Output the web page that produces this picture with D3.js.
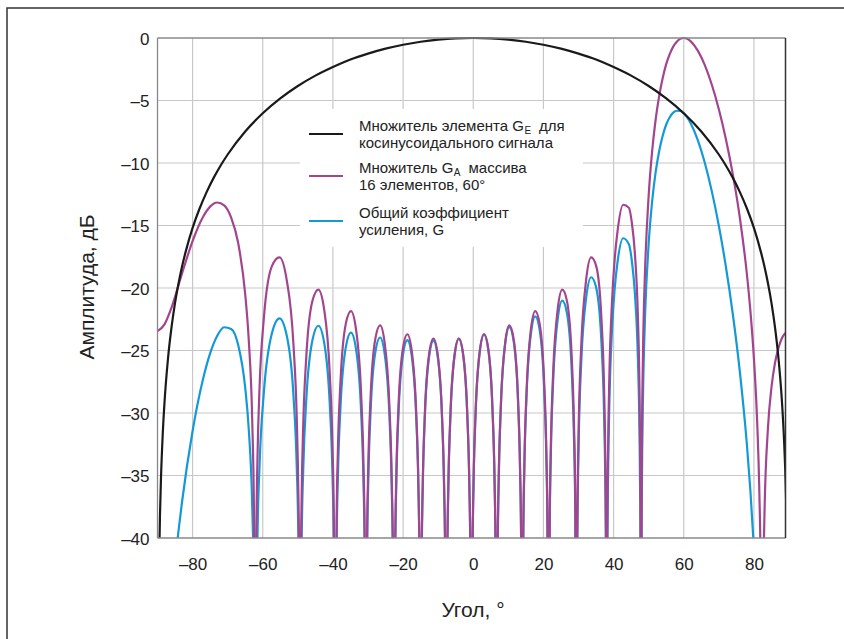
<!DOCTYPE html>
<html><head><meta charset="utf-8">
<script src="https://cdn.jsdelivr.net/npm/d3@7"></script>
<style>body{margin:0;background:#fff}svg{display:block}text{font-family:"Liberation Sans",Arial,sans-serif;fill:#222}</style>
</head><body><svg id="c" width="844" height="639"></svg>
<script>
const xTicks=[-80,-60,-40,-20,0,20,40,60,80];
const yTicks=[0,-5,-10,-15,-20,-25,-30,-35,-40];
const xDomain=[-90,89];
const yDomain=[-40,0];

// Element factor G_E (cosine), dB
const elementFactor=[[-89.6,-43.1],[-89.3,-38.26],[-89,-35.16],[-88.5,-31.64],[-88,-29.14],[-87,-25.62],[-86,-23.13],[-85,-21.19],[-84,-19.62],[-83,-18.28],[-82,-17.13],[-80,-15.19],[-78,-13.64],[-76,-12.33],[-74,-11.19],[-72,-10.2],[-70,-9.32],[-65,-7.48],[-60,-6.02],[-55,-4.83],[-50,-3.84],[-45,-3.01],[-40,-2.32],[-35,-1.72],[-30,-1.25],[-25,-0.85],[-20,-0.54],[-15,-0.3],[-10,-0.13],[-5,-0.03],[0,0],[5,-0.03],[10,-0.13],[15,-0.3],[20,-0.54],[25,-0.85],[30,-1.25],[35,-1.72],[40,-2.32],[45,-3.01],[50,-3.84],[55,-4.83],[60,-6.02],[65,-7.48],[70,-9.32],[72,-10.2],[74,-11.19],[76,-12.33],[78,-13.64],[80,-15.19],[82,-17.13],[83,-18.28],[84,-19.62],[85,-21.19],[86,-23.13],[87,-25.62],[88,-29.14],[88.5,-31.64],[89,-35.16],[89.3,-38.26],[89.6,-43.1]];

// Array factor G_A, 16 elements steered to 60°, dB
const arrayFactor=[[-90,-23.45],[-88,-22.91],[-86,-21.57],[-83,-18.83],[-80,-16.25],[-77,-14.3],[-75,-13.49],[-73,-13.16],[-71,-13.39],[-69,-14.37],[-67,-16.4],[-65,-20.5],[-64,-24.1],[-63,-30.6],[-62.5,-38.1],[-62.12,-60],
[-61.81,-39.5],[-61.5,-33.6],[-60.89,-27.8],[-59.68,-22.4],[-57.39,-18.25],[-55.24,-17.55],[-53.2,-19.31],[-51.24,-24.56],[-50.3,-30.5],[-49.84,-36.6],[-49.6,-42.6],[-49.38,-60],
[-49.15,-42.7],[-48.92,-36.77],[-48.46,-30.93],[-47.57,-25.41],[-45.83,-21.02],[-44.15,-20.13],[-42.5,-21.71],[-40.91,-26.8],[-40.12,-32.67],[-39.73,-38.69],[-39.35,-60],
[-38.96,-38.83],[-38.58,-32.96],[-37.82,-27.37],[-36.32,-22.85],[-34.86,-21.85],[-33.41,-23.32],[-31.99,-28.3],[-31.29,-34.13],[-30.94,-40.12],[-30.6,-60],
[-30.27,-40.27],[-29.93,-34.35],[-29.26,-28.71],[-27.93,-24.09],[-26.55,-22.99],[-25.25,-24.39],[-23.92,-29.31],[-23.25,-35.11],[-22.91,-41.11],[-22.58,-60],
[-22.26,-41.16],[-21.95,-35.22],[-21.32,-29.54],[-20.06,-24.86],[-18.78,-23.7],[-17.53,-25.04],[-16.27,-29.9],[-15.64,-35.66],[-15.33,-41.64],[-15.01,-60],
[-14.71,-41.67],[-14.4,-35.71],[-13.79,-30.01],[-12.57,-25.26],[-11.35,-24.04],[-10.14,-25.32],[-8.92,-30.11],[-8.31,-35.85],[-8,-41.81],[-7.7,-60],
[-7.4,-41.81],[-7.1,-35.85],[-6.5,-30.11],[-5.31,-25.32],[-4.11,-24.04],[-2.91,-25.26],[-1.72,-30.01],[-1.12,-35.71],[-0.82,-41.67],[-0.52,-60],
[-0.22,-41.64],[0.08,-35.66],[0.68,-29.9],[1.87,-25.04],[3.07,-23.7],[4.27,-24.86],[5.46,-29.54],[6.06,-35.22],[6.36,-41.16],[6.66,-60],
[6.96,-41.11],[7.27,-35.11],[7.88,-29.31],[9.09,-24.39],[10.28,-22.99],[11.52,-24.09],[12.74,-28.71],[13.34,-34.35],[13.65,-40.27],[13.95,-60],
[14.25,-40.2],[14.56,-34.18],[15.18,-28.34],[16.42,-23.34],[17.67,-21.85],[18.92,-22.86],[20.19,-27.4],[20.83,-33],[21.15,-38.9],[21.47,-60],
[21.79,-38.79],[22.11,-32.75],[22.76,-26.85],[24.06,-21.73],[25.37,-20.13],[26.7,-21.03],[28.05,-25.45],[28.72,-30.99],[29.07,-36.87],[29.41,-60],
[29.58,-42.6],[29.75,-36.55],[30.09,-30.5],[30.79,-24.56],[32.19,-19.31],[33.61,-17.55],[35.05,-18.25],[36.53,-22.42],[37.27,-27.82],[37.64,-33.6],[37.83,-39.5],[38.02,-60],
[38.21,-39.34],[38.41,-33.25],[38.79,-27.13],[39.56,-21.04],[40.33,-17.64],[41.12,-15.47],[42.73,-13.34],[44.37,-13.59],[45.21,-14.8],[46.07,-17.23],[46.93,-22.31],[47.37,-27.93],[47.59,-33.75],[47.7,-39.67],[47.82,-60],
[48,-35.3],[48.2,-28.5],[48.5,-23.3],[49,-18.32],[50,-12.6],[51,-9.02],[52,-6.5],[53,-4.63],[54,-3.2],[55,-2.09],[56,-1.29],[57,-0.69],[58,-0.3],[59,-0.07],[60,0],[61,-0.07],[62,-0.27],[64,-1.01],[66,-2.17],[68,-3.74],[70,-5.7],[72,-8.08],[74,-10.93],[76,-14.4],[78,-18.9],[79,-21.85],[80,-25.65],[81,-31.26],[81.5,-35.8],[82,-44.6],[82.3,-60],[82.5,-49],[83,-38.2],[84,-31.2],[85,-27.96],[86,-26],[87,-24.8],[88,-24],[89,-23.6],[90,-23.45]];

// Total gain G, dB
const totalGain=[[-85,-41.9],[-84,-39.4],[-83,-37.1],[-80,-31.44],[-77,-27.26],[-75,-25.23],[-73,-23.84],[-71,-23.14],[-69,-23.28],[-67,-24.56],[-65,-27.98],[-64,-31.26],[-63,-37.46],[-62.5,-44.8],[-62.12,-60],
[-61.5,-40],[-60.89,-34.06],[-59.68,-28.34],[-57.39,-23.62],[-55.24,-22.43],[-53.2,-23.76],[-51.24,-28.63],[-50.3,-34.39],[-49.84,-40.41],[-49.38,-60],
[-48.92,-40.42],[-48.46,-34.5],[-47.57,-28.83],[-45.83,-24.16],[-44.15,-23.02],[-42.5,-24.36],[-40.91,-29.23],[-40.12,-35],[-39.73,-40.97],[-39.35,-60],
[-38.96,-41.01],[-38.58,-35.1],[-37.82,-29.42],[-36.32,-24.73],[-34.86,-23.57],[-33.41,-24.89],[-31.99,-29.73],[-31.29,-35.5],[-30.94,-41.45],[-30.6,-60],
[-30.27,-41.54],[-29.93,-35.59],[-29.26,-29.9],[-27.93,-25.17],[-26.55,-23.96],[-25.25,-25.26],[-23.92,-30.09],[-23.25,-35.85],[-22.91,-41.82],[-22.58,-60],
[-22.26,-41.83],[-21.95,-35.87],[-21.32,-30.16],[-20.06,-25.4],[-18.78,-24.17],[-17.53,-25.45],[-16.27,-30.25],[-15.64,-35.99],[-15.33,-41.95],[-15.01,-60],
[-14.71,-41.96],[-14.4,-35.99],[-13.79,-30.26],[-12.57,-25.47],[-11.35,-24.21],[-10.14,-25.46],[-8.92,-30.22],[-8.31,-35.94],[-8,-41.89],[-7.7,-60],
[-7.4,-41.88],[-7.1,-35.92],[-6.5,-30.17],[-5.31,-25.36],[-4.11,-24.06],[-2.91,-25.27],[-1.72,-30.01],[-1.12,-35.71],[-0.82,-41.67],[-0.52,-60],
[-0.22,-41.64],[0.08,-35.66],[0.68,-29.9],[1.87,-25.04],[3.07,-23.71],[4.27,-24.88],[5.46,-29.58],[6.06,-35.27],[6.36,-41.21],[6.66,-60],
[6.96,-41.17],[7.27,-35.18],[7.88,-29.39],[9.09,-24.5],[10.28,-23.13],[11.52,-24.27],[12.74,-28.93],[13.34,-34.59],[13.65,-40.52],[13.95,-60],
[14.25,-40.47],[14.56,-34.46],[15.18,-28.65],[16.42,-23.7],[17.67,-22.27],[18.92,-23.34],[20.19,-27.95],[20.83,-33.59],[21.15,-39.51],[21.47,-60],
[21.79,-39.43],[22.11,-33.41],[22.76,-27.55],[24.06,-22.52],[25.37,-21.01],[26.7,-22.01],[28.05,-26.54],[28.72,-32.13],[29.07,-38.04],[29.41,-60],
[29.58,-43.8],[29.75,-37.78],[30.09,-31.76],[30.79,-25.88],[32.19,-20.76],[33.61,-19.14],[35.05,-19.99],[36.53,-24.32],[37.27,-29.8],[37.64,-35.63],[37.83,-41.55],[38.02,-60],
[38.21,-41.43],[38.41,-35.37],[38.79,-29.29],[39.56,-23.3],[40.33,-20],[41.12,-17.93],[42.73,-16.02],[44.37,-16.51],[45.21,-17.85],[46.07,-20.41],[46.93,-25.63],[47.37,-31.32],[47.59,-37.18],[47.7,-43.1],[47.82,-60],
[48,-38.79],[48.2,-32],[48.5,-26.9],[49,-21.98],[50,-16.44],[51,-13.04],[52,-10.71],[53,-9.04],[54,-7.82],[55,-6.92],[56,-6.34],[57,-5.97],[58,-5.82],[59,-5.83],[60,-6.02],[62,-6.84],[64,-8.17],[66,-9.98],[68,-12.27],[70,-15.02],[72,-18.28],[74,-22.12],[76,-26.73],[78,-32.54],[79,-36.24],[80,-40.84],[81,-46.5]];

const legendItems=[
  {color:"#1a1a1a",lines:[["Множитель элемента G","E","для"],["косинусоидального сигнала"]]},
  {color:"#a3458e",lines:[["Множитель G","A","массива"],["16 элементов, 60°"]]},
  {color:"#139ad6",lines:[["Общий коэффициент"],["усиления, G"]]}
];

const svg=d3.select("#c");
const L=157.5,R=785.5,T=38,B=538;
const x=d3.scaleLinear().domain(xDomain).range([L,R]);
const y=d3.scaleLinear().domain(yDomain).range([B,T]);

// outer frame
svg.append("path").attr("d","M7,639 L7,8 L844,8").attr("fill","none").attr("stroke","#333").attr("stroke-width",1.5);

// grid
const g=svg.append("g");
g.selectAll(".vx").data(xTicks).join("line").attr("x1",d=>x(d)).attr("x2",d=>x(d)).attr("y1",T).attr("y2",B).attr("stroke","#c8c8c8").attr("stroke-width",1.2);
g.selectAll(".hy").data(yTicks.filter(d=>d!==0&&d!==-40)).join("line").attr("x1",L).attr("x2",R).attr("y1",d=>y(d)).attr("y2",d=>y(d)).attr("stroke","#c8c8c8").attr("stroke-width",1.2);

// axes (labels only)
const xAxis=d3.axisBottom(x).tickValues(xTicks).tickSize(0).tickPadding(0).tickFormat(d=>d<0?"\u2013"+Math.abs(d):d);
const xa=svg.append("g").attr("transform",`translate(0,${B})`).call(xAxis);
xa.select(".domain").remove();
xa.selectAll("text").attr("dy",null).attr("y",32).style("font-size","17px").style("fill","#222").attr("font-family",null);
const yAxis=d3.axisLeft(y).tickValues(yTicks).tickSize(0).tickPadding(0).tickFormat(d=>d<0?"\u2013"+Math.abs(d):d);
const ya=svg.append("g").attr("transform",`translate(${L},0)`).call(yAxis);
ya.select(".domain").remove();
ya.selectAll("text").attr("x",-8).attr("dy","0.36em").style("font-size","17px").style("fill","#222").attr("font-family",null);

// legend background
svg.append("rect").attr("x",300).attr("y",109).attr("width",283).attr("height",138).attr("fill","#fff");

// clip
svg.append("clipPath").attr("id","clip").append("rect").attr("x",L).attr("y",T-2).attr("width",R-L).attr("height",B-T+2);
const line=d3.line().x(d=>x(d[0])).y(d=>y(d[1])).curve(d3.curveMonotoneX);
const plot=svg.append("g").attr("clip-path","url(#clip)");
plot.append("path").datum(totalGain).attr("d",line).attr("fill","none").attr("stroke","#139ad6").attr("stroke-width",2.2);
plot.append("path").datum(arrayFactor).attr("d",line).attr("fill","none").attr("stroke","#a3458e").attr("stroke-width",2.2);
plot.append("path").datum(elementFactor).attr("d",line).attr("fill","none").attr("stroke","#1a1a1a").attr("stroke-width",2.2);

// frame lines
svg.append("line").attr("x1",L).attr("x2",R).attr("y1",T).attr("y2",T).attr("stroke","#888").attr("stroke-width",1.3);
svg.append("line").attr("x1",L).attr("x2",R).attr("y1",B).attr("y2",B).attr("stroke","#888").attr("stroke-width",1.3);
svg.append("line").attr("x1",L).attr("x2",L).attr("y1",T).attr("y2",B).attr("stroke","#888").attr("stroke-width",1.3);
svg.append("line").attr("x1",R).attr("x2",R).attr("y1",T).attr("y2",B).attr("stroke","#333").attr("stroke-width",1.5);

// legend
const lg=svg.append("g");
const legY=[134,176,221];
legendItems.forEach((it,i)=>{
  lg.append("line").attr("x1",309).attr("x2",343).attr("y1",legY[i]).attr("y2",legY[i]).attr("stroke",it.color).attr("stroke-width",2.2);
  it.lines.forEach((ln,j)=>{
    const by=legY[i]-3+j*16.5;
    let cx=359;
    ln.forEach((part,k)=>{
      const t=lg.append("text").attr("x",cx).attr("y",k===1?by+3:by).style("font-size",k===1?"10px":"15px").text(part);
      cx+=t.node().getComputedTextLength()+(k===0?0.5:0)+(k===1?8:0);
    });
  });
});

// axis titles
svg.append("text").attr("x",473).attr("y",617).attr("text-anchor","middle").style("font-size","21px").text("Угол, °");
svg.append("text").attr("transform","translate(94,287) rotate(-90)").attr("text-anchor","middle").style("font-size","21px").text("Амплитуда, дБ");
</script></body></html>
